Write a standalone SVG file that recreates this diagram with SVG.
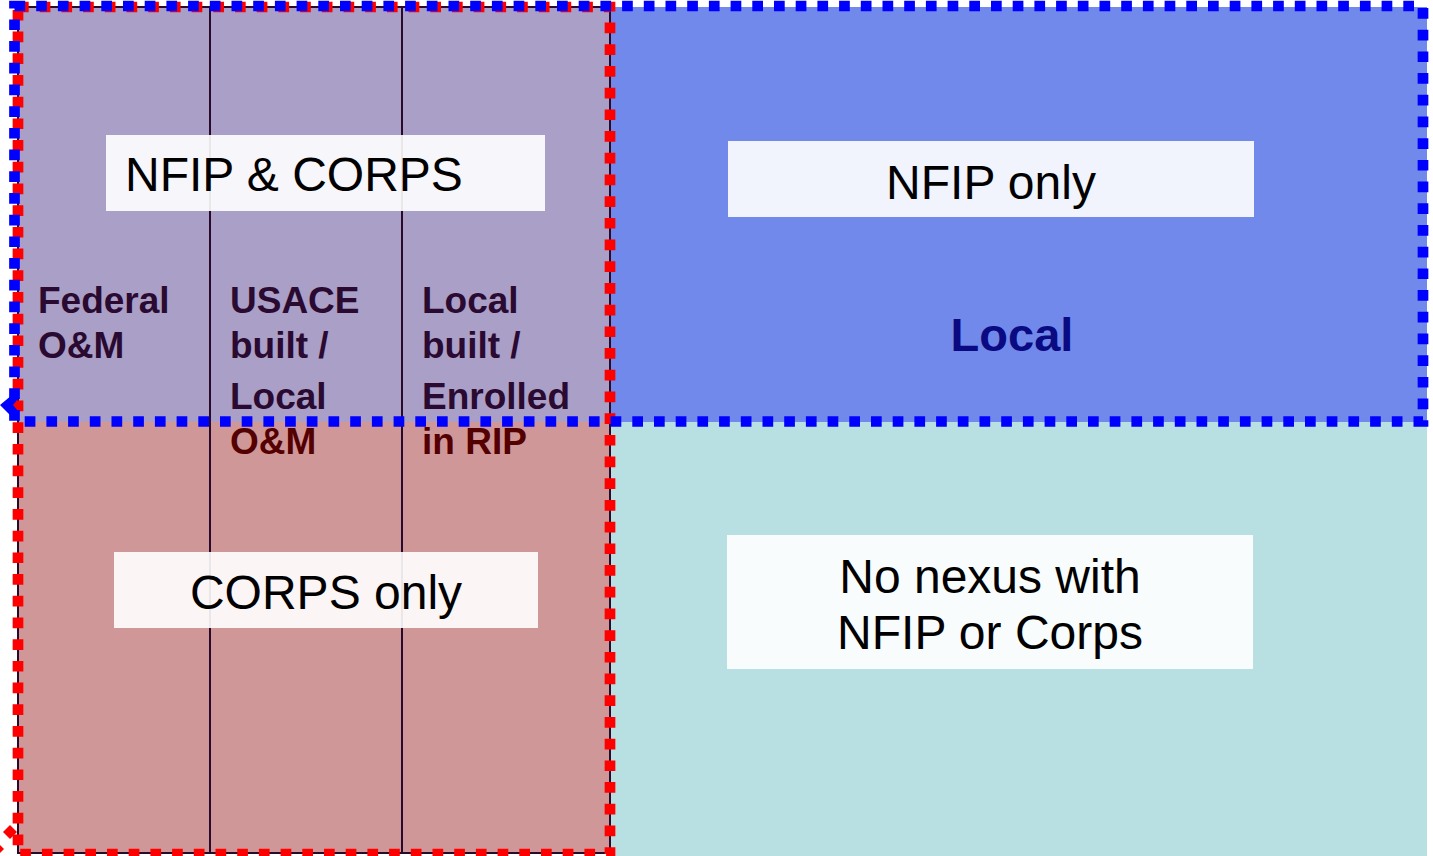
<svg xmlns="http://www.w3.org/2000/svg" width="1433" height="856" viewBox="0 0 1433 856">
<style>
.box{fill:#ffffff;fill-opacity:0.9}
.lbl{font-family:"Liberation Sans",Arial,sans-serif;font-size:48px;fill:#000}
.col{font-family:"Liberation Sans",Arial,sans-serif;font-size:37px;font-weight:bold}
.top{fill:#2a0a30}
.bot{fill:#550000}
.grid{stroke:#2a0a2a;stroke-width:2;fill:none}
.dotB{fill:none;stroke:#0000ff;stroke-width:10.7;stroke-dasharray:10.7 11}
.dotR{fill:none;stroke:#ff0000;stroke-width:10.7;stroke-dasharray:10.7 11}
</style>
<rect width="1433" height="856" fill="#ffffff"/>
<g id="regions">
<rect x="18" y="7" width="592" height="415" fill="#a99fc7"/>
<rect x="18" y="422" width="592" height="431" fill="#d09799"/>
<rect x="610" y="7" width="817" height="415" fill="#7189eb"/>
<rect x="610" y="422" width="817" height="434" fill="#b8dfe2"/>
</g>
<g id="grid">
<rect class="grid" x="18" y="7" width="592" height="846"/>
<line class="grid" x1="210" y1="7" x2="210" y2="853"/>
<line class="grid" x1="402" y1="7" x2="402" y2="853"/>
</g>
<g id="columns">
<text class="col top" x="38" y="313">Federal</text>
<text class="col top" x="38" y="358">O&amp;M</text>
<text class="col top" x="230" y="313">USACE</text>
<text class="col top" x="230" y="358">built /</text>
<text class="col top" x="230" y="409">Local</text>
<text class="col bot" x="230" y="454">O&amp;M</text>
<text class="col top" x="422" y="313">Local</text>
<text class="col top" x="422" y="358">built /</text>
<text class="col top" x="422" y="409">Enrolled</text>
<text class="col bot" x="422" y="454">in RIP</text>
</g>
<g id="nfip-corps">
<rect class="box" x="106" y="135" width="439" height="76"/>
<text class="lbl" x="125" y="191">NFIP &amp; CORPS</text>
</g>
<g id="nfip-only">
<rect class="box" x="728" y="141" width="526" height="76"/>
<text class="lbl" x="991" y="199" text-anchor="middle">NFIP only</text>
</g>
<g id="local">
<text x="1012" y="351" text-anchor="middle" font-family="Liberation Sans,Arial,sans-serif" font-size="47" font-weight="bold" fill="#0a0a82">Local</text>
</g>
<g id="corps-only">
<rect class="box" x="114" y="552" width="424" height="76"/>
<text class="lbl" x="326" y="609" text-anchor="middle">CORPS only</text>
</g>
<g id="no-nexus">
<rect class="box" x="727" y="535" width="526" height="134"/>
<text class="lbl" x="990" y="593" text-anchor="middle">No nexus with</text>
<text class="lbl" x="990" y="649" text-anchor="middle">NFIP or Corps</text>
</g>
<g id="connectors">
<rect class="dotR" x="18" y="7" width="592" height="847"/>
<rect class="dotB" x="14.5" y="6" width="1408.5" height="415.5"/>
<polygon points="0,405 12,395 19,398 13,405 19,412 12,417" fill="#0000ff"/>
<polygon points="10,825 17,832 10,839 3,832" fill="#ff0000"/>
<polygon points="0,845 4,849 0,853" fill="#ff0000"/>
</g>
</svg>
